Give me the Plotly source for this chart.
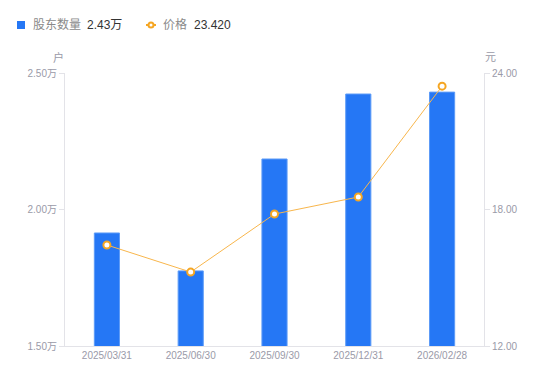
import plotly.graph_objects as go

categories = ["2025/03/31", "2025/06/30", "2025/09/30", "2025/12/31", "2026/02/28"]
holders = [19140, 17750, 21850, 24230, 24300]
price = [16.44, 15.25, 17.80, 18.55, 23.42]
left_ticks = [15000, 20000, 25000]
left_labels = ["1.50万", "2.00万", "2.50万"]
right_ticks = [12, 18, 24]
right_labels = ["12.00", "18.00", "24.00"]

FONT = "Liberation Sans, Noto Sans CJK SC, sans-serif"
GRAY = "#9a9aa8"
AXIS = "#e3e3e8"
BLUE = "#2577F5"
ORANGE = "#F5A623"

# plot area in figure pixels
L, R, T, B = 57, 476, 65, 338
W, H = R - L, B - T


def px(fx):
    return (fx - L) / W


def py(fy):
    return (B - fy) / H


fig = go.Figure()
fig.add_trace(go.Bar(
    x=categories, y=holders, name="股东数量",
    marker=dict(color=BLUE, line=dict(color="#5d9bf7", width=1)),
    yaxis="y", hoverinfo="skip",
))
fig.add_trace(go.Scatter(
    x=categories, y=price, name="价格",
    mode="lines+markers",
    line=dict(color="#F8B64C", width=1),
    marker=dict(size=7, color="white", line=dict(color=ORANGE, width=2)),
    yaxis="y2", hoverinfo="skip",
))

legend_y = py(17)
annotations = [
    dict(text="股东数量", x=px(23), y=legend_y, font=dict(size=12, color="#8a8a8a")),
    dict(text="2.43万", x=px(77), y=legend_y, font=dict(size=12, color="#333333")),
    dict(text="价格", x=px(153), y=legend_y, font=dict(size=12, color="#8a8a8a")),
    dict(text="23.420", x=px(184), y=legend_y, font=dict(size=12, color="#333333")),
]
for a in annotations:
    a.update(xref="paper", yref="paper", xanchor="left", yanchor="middle", showarrow=False)
annotations += [
    dict(text="户", xref="paper", yref="paper", x=px(50.5), y=py(49),
         xanchor="center", yanchor="middle", showarrow=False, font=dict(size=11, color=GRAY)),
    dict(text="元", xref="paper", yref="paper", x=px(482), y=py(49),
         xanchor="center", yanchor="middle", showarrow=False, font=dict(size=11, color=GRAY)),
]

shapes = [
    dict(type="rect", xref="paper", yref="paper", x0=px(9), x1=px(17), y0=py(21), y1=py(13),
         fillcolor=BLUE, line=dict(width=0)),
    dict(type="line", xref="paper", yref="paper", x0=px(138), x1=px(148), y0=legend_y, y1=legend_y,
         line=dict(color=ORANGE, width=2)),
    dict(type="circle", xref="paper", yref="paper", x0=px(140.5), x1=px(145.5), y0=py(19.5), y1=py(14.5),
         fillcolor="white", line=dict(color=ORANGE, width=2)),
]

fig.update_layout(
    width=550, height=381,
    margin=dict(l=L, r=550 - R, t=T, b=381 - B),
    plot_bgcolor="white", paper_bgcolor="white",
    font=dict(family=FONT, color=GRAY, size=10),
    bargap=0.7,
    showlegend=False,
    annotations=annotations,
    shapes=shapes,
    xaxis=dict(
        type="category", showgrid=False, showline=True, linecolor=AXIS,
        ticks="", tickfont=dict(size=10, color=GRAY), zeroline=False,
    ),
    yaxis=dict(
        range=[15000, 25000], tickvals=left_ticks, ticktext=left_labels,
        showgrid=False, showline=True, linecolor=AXIS, ticks="outside",
        ticklen=5, tickcolor=AXIS, tickfont=dict(size=10, color=GRAY), zeroline=False,
    ),
    yaxis2=dict(
        range=[12, 24], tickvals=right_ticks, ticktext=right_labels,
        overlaying="y", side="right",
        showgrid=False, showline=True, linecolor=AXIS, ticks="outside",
        ticklen=5, tickcolor=AXIS, tickfont=dict(size=10, color=GRAY), zeroline=False,
    ),
)

fig.write_html("out.html")
